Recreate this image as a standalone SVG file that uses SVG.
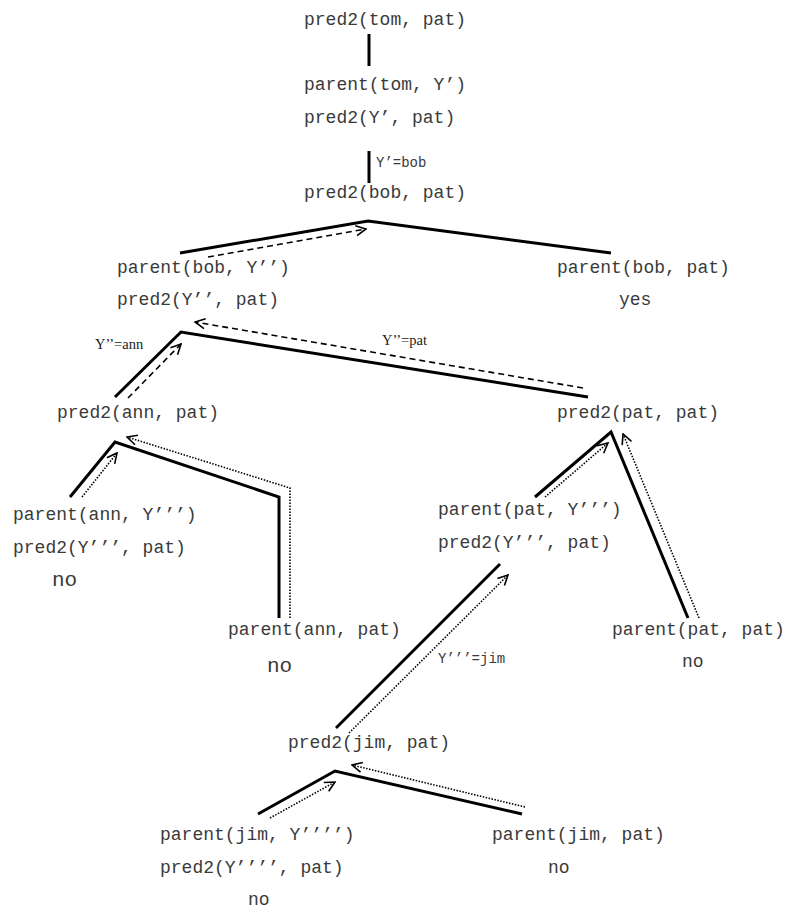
<svg xmlns="http://www.w3.org/2000/svg" width="788" height="912" viewBox="0 0 788 912">
  <style>
    .t { font-family: "Liberation Mono", "Courier New", monospace; font-size: 18px; fill: #3a3a3a; }
    .big { font-size: 21px; }
    .lbl { font-family: "Liberation Mono", "Courier New", monospace; font-size: 14px; fill: #3a3a3a; }
    .lbls { font-family: "Liberation Serif", "Times New Roman", serif; font-size: 14.5px; fill: #222; }
    .edge { fill: none; stroke: #000; stroke-width: 3; }
    .dash { fill: none; stroke: #000; stroke-width: 1.6; stroke-dasharray: 6 4; marker-end: url(#arrow); }
    .dot { fill: none; stroke: #000; stroke-width: 1.6; stroke-dasharray: 1.5 1.5; marker-end: url(#arrow); }
  </style>
  <defs>
    <marker id="arrow" viewBox="0 0 12 12" refX="11" refY="6" markerWidth="12" markerHeight="12" markerUnits="userSpaceOnUse" orient="auto">
      <path d="M1,1 L11,6 L1,11" fill="none" stroke="#000" stroke-width="1.6" stroke-dasharray="none"/>
    </marker>
  </defs>

  <!-- tree edges and backtracking arrows -->
  <g id="connectors">
    <line class="edge" x1="369" y1="34" x2="369" y2="66"/>
    <line class="edge" x1="369" y1="151" x2="369" y2="183"/>
    <polyline class="edge" points="180,253 368,221 611,253"/>
    <polyline class="edge" points="115,397 181,332 588,397"/>
    <polyline class="edge" points="70,497 115,442 279,497 279,618"/>
    <polyline class="edge" points="535,497 611,432 688,618"/>
    <line class="edge" x1="336" y1="728" x2="500" y2="564"/>
    <polyline class="edge" points="258,814 335,771 522,814"/>

    <line class="dash" x1="208" y1="257" x2="366" y2="229"/>
    <line class="dash" x1="128" y1="398" x2="181" y2="344"/>
    <line class="dash" x1="583" y1="388" x2="195" y2="322"/>
    <line class="dot" x1="82" y1="497" x2="117" y2="453"/>
    <polyline class="dot" points="290,618 290,488 127,437"/>
    <line class="dot" x1="545" y1="497" x2="608" y2="443"/>
    <line class="dot" x1="699" y1="618" x2="623" y2="434"/>
    <line class="dot" x1="349" y1="733" x2="508" y2="575"/>
    <line class="dot" x1="270" y1="818" x2="335" y2="782"/>
    <line class="dot" x1="525" y1="807" x2="352" y2="765"/>

    <text class="lbl" x="376" y="167">Y’=bob</text>
    <text class="lbls" x="95" y="349">Y’’=ann</text>
    <text class="lbls" x="382" y="345">Y’’=pat</text>
    <text class="lbl" x="438" y="663">Y’’’=jim</text>
  </g>

  <g id="n-root"><text class="t" x="304" y="25">pred2(tom, pat)</text></g>
  <g id="n-1">
    <text class="t" x="304" y="90">parent(tom, Y’)</text>
    <text class="t" x="304" y="123">pred2(Y’, pat)</text>
  </g>
  <g id="n-bob"><text class="t" x="304" y="198">pred2(bob, pat)</text></g>
  <g id="n-bob-left">
    <text class="t" x="117" y="273">parent(bob, Y’’)</text>
    <text class="t" x="117" y="305">pred2(Y’’, pat)</text>
  </g>
  <g id="n-bob-right">
    <text class="t" x="557" y="273">parent(bob, pat)</text>
    <text class="t" x="619" y="305">yes</text>
  </g>
  <g id="n-ann"><text class="t" x="57" y="418">pred2(ann, pat)</text></g>
  <g id="n-pat"><text class="t" x="557" y="418">pred2(pat, pat)</text></g>
  <g id="n-ann-left">
    <text class="t" x="13" y="520">parent(ann, Y’’’)</text>
    <text class="t" x="13" y="553">pred2(Y’’’, pat)</text>
    <text class="t big" x="52" y="586">no</text>
  </g>
  <g id="n-ann-right">
    <text class="t" x="228" y="635">parent(ann, pat)</text>
    <text class="t big" x="267" y="672">no</text>
  </g>
  <g id="n-pat-left">
    <text class="t" x="438" y="515">parent(pat, Y’’’)</text>
    <text class="t" x="438" y="548">pred2(Y’’’, pat)</text>
  </g>
  <g id="n-pat-right">
    <text class="t" x="612" y="635">parent(pat, pat)</text>
    <text class="t" x="682" y="667">no</text>
  </g>
  <g id="n-jim"><text class="t" x="288" y="748">pred2(jim, pat)</text></g>
  <g id="n-jim-left">
    <text class="t" x="160" y="840">parent(jim, Y’’’’)</text>
    <text class="t" x="160" y="873">pred2(Y’’’’, pat)</text>
    <text class="t" x="248" y="905">no</text>
  </g>
  <g id="n-jim-right">
    <text class="t" x="492" y="840">parent(jim, pat)</text>
    <text class="t" x="548" y="873">no</text>
  </g>
</svg>
